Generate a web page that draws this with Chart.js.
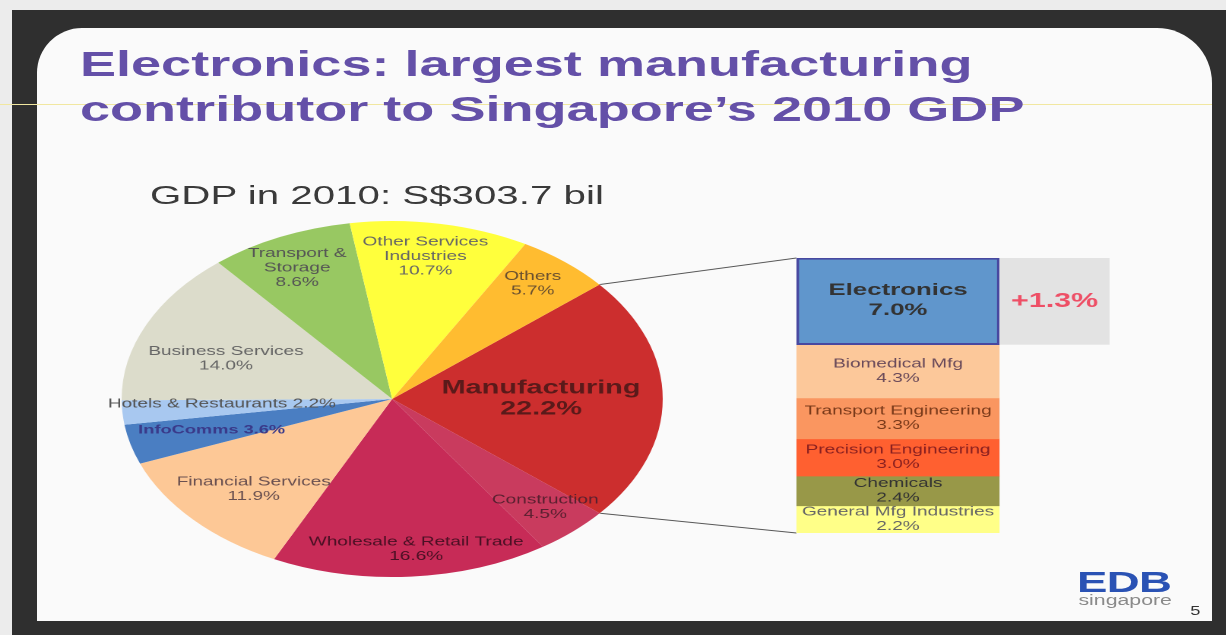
<!DOCTYPE html>
<html>
<head>
<meta charset="utf-8">
<script src="https://cdn.jsdelivr.net/npm/chart.js"></script>
<style>
  body { margin: 0; width: 1226px; height: 635px; overflow: hidden; background: #ececec; position: relative;
         font-family: Arial, "Liberation Sans", sans-serif; }
  #frame { position: absolute; left: 12px; top: 10px; right: 0; bottom: 0; background: #2f2f2f; }
  #slide { position: absolute; left: 37px; top: 28px; width: 1175px; height: 593px; background: #fafafa;
           border-radius: 45px 55px 0 0; }
  #scanline { position: absolute; left: 0; top: 104px; width: 1212px; height: 1px; background: #f1e7a0; }
  /* the whole slide content is laid out narrow and stretched sideways */
  #stage { position: absolute; left: 0; top: 0; width: 807px; height: 635px;
           transform: scaleX(1.52); transform-origin: 0 0; }
  #title { position: absolute; left: 52.6px; top: 42px; font-size: 35.6px; line-height: 45px; font-weight: bold;
           color: #6450a8; white-space: nowrap; }
  #subtitle { position: absolute; left: 98.7px; top: 181.6px; font-size: 26.5px; line-height: 26.5px; color: #3a3a3a;
              white-space: nowrap; }
  #pie { position: absolute; left: 67.9px; top: 209px; }
  #bars { position: absolute; left: 524.3px; top: 258px; }
  #links { position: absolute; left: 0; top: 0; }
  #edb { position: absolute; left: 708.6px; top: 566.6px; font-size: 30px; line-height: 30px; font-weight: bold;
         color: #2a52b4; letter-spacing: -0.5px; }
  #edbsub { position: absolute; left: 709.5px; top: 593.2px; font-size: 14px; line-height: 14px; color: #8a8a8a; }
  #page { position: absolute; left: 783px; top: 604.8px; font-size: 12px; line-height: 12px; color: #333; }
</style>
</head>
<body>
<div id="frame"></div>
<div id="slide"></div>
<div id="scanline"></div>
<div id="stage">
  <div id="title">Electronics: largest manufacturing<br>contributor to Singapore’s 2010 GDP</div>
  <div id="subtitle">GDP in 2010: S$303.7 bil</div>
  <canvas id="links" width="807" height="635"></canvas>
  <canvas id="pie" width="380" height="380"></canvas>
  <canvas id="bars" width="206" height="275"></canvas>
  <div id="edb">EDB</div>
  <div id="edbsub">singapore</div>
  <div id="page">5</div>
</div>
<script>
// GDP 2010 shares by sector, clockwise from Manufacturing
const sectors = ['Manufacturing', 'Construction', 'Wholesale & Retail Trade', 'Financial Services', 'InfoComms',
  'Hotels & Restaurants', 'Business Services', 'Transport & Storage', 'Other Services Industries', 'Others'];
const sectorShares = [22.2, 4.5, 16.6, 11.9, 3.6, 2.2, 14.0, 8.6, 10.7, 5.7];

// manufacturing broken down, top to bottom
const mfgSegments = ['Electronics', 'Biomedical Mfg', 'Transport Engineering', 'Precision Engineering',
  'Chemicals', 'General Mfg Industries'];
const mfgShares = [7.0, 4.3, 3.3, 3.0, 2.4, 2.2];
const electronicsGrowth = 1.3;

// how each sector name is wrapped inside its slice, and where it sits
const sectorLines = [['Manufacturing'], ['Construction'], ['Wholesale & Retail Trade'], ['Financial Services'],
  ['InfoComms'], ['Hotels & Restaurants'], ['Business Services'], ['Transport &', 'Storage'],
  ['Other Services', 'Industries'], ['Others']];
const inlineValue = [false, false, false, false, true, true, false, false, false, false];
const labelRadius = [0.55, 0.83, 0.85, 0.72, 0.69, 0.63, 0.655, 0.815, 0.81, 0.83];
const labelNudge = [0, -1, -2, -2, 0, 1.7, -4.5, -1, -1.5, -1]; // degrees
const sectorColors = ['#cc2e2e', '#c93b5e', '#c72b57', '#fdc896', '#4a7ec2', '#a8c8f0', '#dcdccb',
  '#98c862', '#ffff3c', '#ffbc30'];
const sectorText = ['#5a1a1a', '#5a2030', '#4a1024', '#6a5050', '#3a3a8a', '#555', '#666', '#555', '#666', '#6a5030'];

const barColors = ['#6096cc', '#fcc89a', '#fa9660', '#ff6030', '#989848', '#ffff88'];
const barText = ['#333', '#6a4a5a', '#7a3a1a', '#8a2020', '#333', '#666'];

const FONT = 'Arial, "Liberation Sans", sans-serif';

const pieLabels = {
  id: 'pieLabels',
  afterDatasetsDraw(chart) {
    const ctx = chart.ctx;
    ctx.save();
    ctx.textAlign = 'center';
    ctx.textBaseline = 'middle';
    chart.getDatasetMeta(0).data.forEach((arc, i) => {
      const mid = (arc.startAngle + arc.endAngle) / 2 + labelNudge[i] * Math.PI / 180;
      const r = arc.outerRadius * labelRadius[i];
      const x = arc.x + Math.cos(mid) * r;
      const y = arc.y + Math.sin(mid) * r;
      const value = sectorShares[i].toFixed(1) + '%';
      let lines = sectorLines[i].slice();
      if (inlineValue[i]) lines[lines.length - 1] += ' ' + value;
      else lines.push(value);
      let size = 12.5, lh = 14.5, weight = 'normal';
      if (i === 0) { size = 19; lh = 21; weight = 'bold'; }
      if (i === 4) { weight = 'bold'; size = 12; }
      ctx.font = weight + ' ' + size + 'px ' + FONT;
      ctx.fillStyle = sectorText[i];
      lines.forEach((t, k) => {
        ctx.fillText(t, x, y + (k - (lines.length - 1) / 2) * lh);
      });
    });
    ctx.restore();
  }
};

const pieChart = new Chart(document.getElementById('pie'), {
  type: 'pie',
  data: {
    labels: sectors,
    datasets: [{
      data: sectorShares,
      backgroundColor: sectorColors,
      borderWidth: 0
    }]
  },
  options: {
    responsive: false,
    animation: false,
    devicePixelRatio: 2,
    rotation: 50,
    radius: 178,
    layout: { padding: 0 },
    plugins: { legend: { display: false }, tooltip: { enabled: false } }
  },
  plugins: [pieLabels]
});

const barLabels = {
  id: 'barLabels',
  afterDatasetsDraw(chart) {
    const ctx = chart.ctx;
    ctx.save();
    ctx.textAlign = 'center';
    ctx.textBaseline = 'middle';
    chart.data.datasets.forEach((ds, i) => {
      const el = chart.getDatasetMeta(i).data[0];
      const top = Math.min(el.y, el.base), bottom = Math.max(el.y, el.base);
      const cy = (top + bottom) / 2;
      const value = mfgShares[i].toFixed(1) + '%';
      ctx.fillStyle = barText[i];
      if (i === 0) {
        ctx.font = 'bold 17px ' + FONT;
        ctx.fillText(ds.label, el.x, cy - 11);
        ctx.fillText(value, el.x, cy + 9);
        // growth box beside Electronics
        const right = chart.chartArea.right;
        ctx.fillStyle = '#e3e3e3';
        ctx.fillRect(right, top, chart.width - right, bottom - top);
        ctx.fillStyle = '#ee4f66';
        ctx.font = 'bold 20px ' + FONT;
        ctx.fillText('+' + electronicsGrowth.toFixed(1) + '%', (right + chart.width) / 2, cy);
      } else {
        ctx.font = '12.5px ' + FONT;
        ctx.fillText(ds.label, el.x, cy - 7.5);
        ctx.fillText(value, el.x, cy + 7);
      }
    });
    ctx.restore();
  }
};

const barChart = new Chart(document.getElementById('bars'), {
  type: 'bar',
  data: {
    labels: ['Manufacturing'],
    datasets: mfgSegments.map((name, i) => ({
      label: name,
      data: [mfgShares[i]],
      backgroundColor: barColors[i],
      borderColor: i === 0 ? '#4848a0' : barColors[i],
      borderWidth: i === 0 ? 2 : 0,
      borderSkipped: false,
      barPercentage: 1,
      categoryPercentage: 1
    }))
  },
  options: {
    responsive: false,
    animation: false,
    devicePixelRatio: 2,
    layout: { padding: { left: 0, right: 72.4, top: 0, bottom: 0 } },
    scales: {
      x: { stacked: true, display: false },
      y: { stacked: true, display: false, reverse: true, min: 0, max: 22.2 }
    },
    plugins: { legend: { display: false }, tooltip: { enabled: false } }
  },
  plugins: [barLabels]
});

// thin connectors from the Manufacturing slice to the breakdown column
function drawLinks() {
  const cv = document.getElementById('links');
  const ctx = cv.getContext('2d');
  const pieBox = document.getElementById('pie');
  const barBox = document.getElementById('bars');
  const arc = pieChart.getDatasetMeta(0).data[0];
  const px = pieBox.offsetLeft + arc.x, py = pieBox.offsetTop + arc.y;
  const R = arc.outerRadius;
  const first = barChart.getDatasetMeta(0).data[0];
  const last = barChart.getDatasetMeta(mfgShares.length - 1).data[0];
  const bx = barBox.offsetLeft + first.x - first.width / 2;
  const bTop = barBox.offsetTop + Math.min(first.y, first.base);
  const bBottom = barBox.offsetTop + Math.max(last.y, last.base);
  ctx.strokeStyle = '#555';
  ctx.lineWidth = 1;
  ctx.beginPath();
  ctx.moveTo(px + Math.cos(arc.startAngle) * R, py + Math.sin(arc.startAngle) * R);
  ctx.lineTo(bx, bTop);
  ctx.moveTo(px + Math.cos(arc.endAngle) * R, py + Math.sin(arc.endAngle) * R);
  ctx.lineTo(bx, bBottom);
  ctx.stroke();
}
drawLinks();
</script>
</body>
</html>
